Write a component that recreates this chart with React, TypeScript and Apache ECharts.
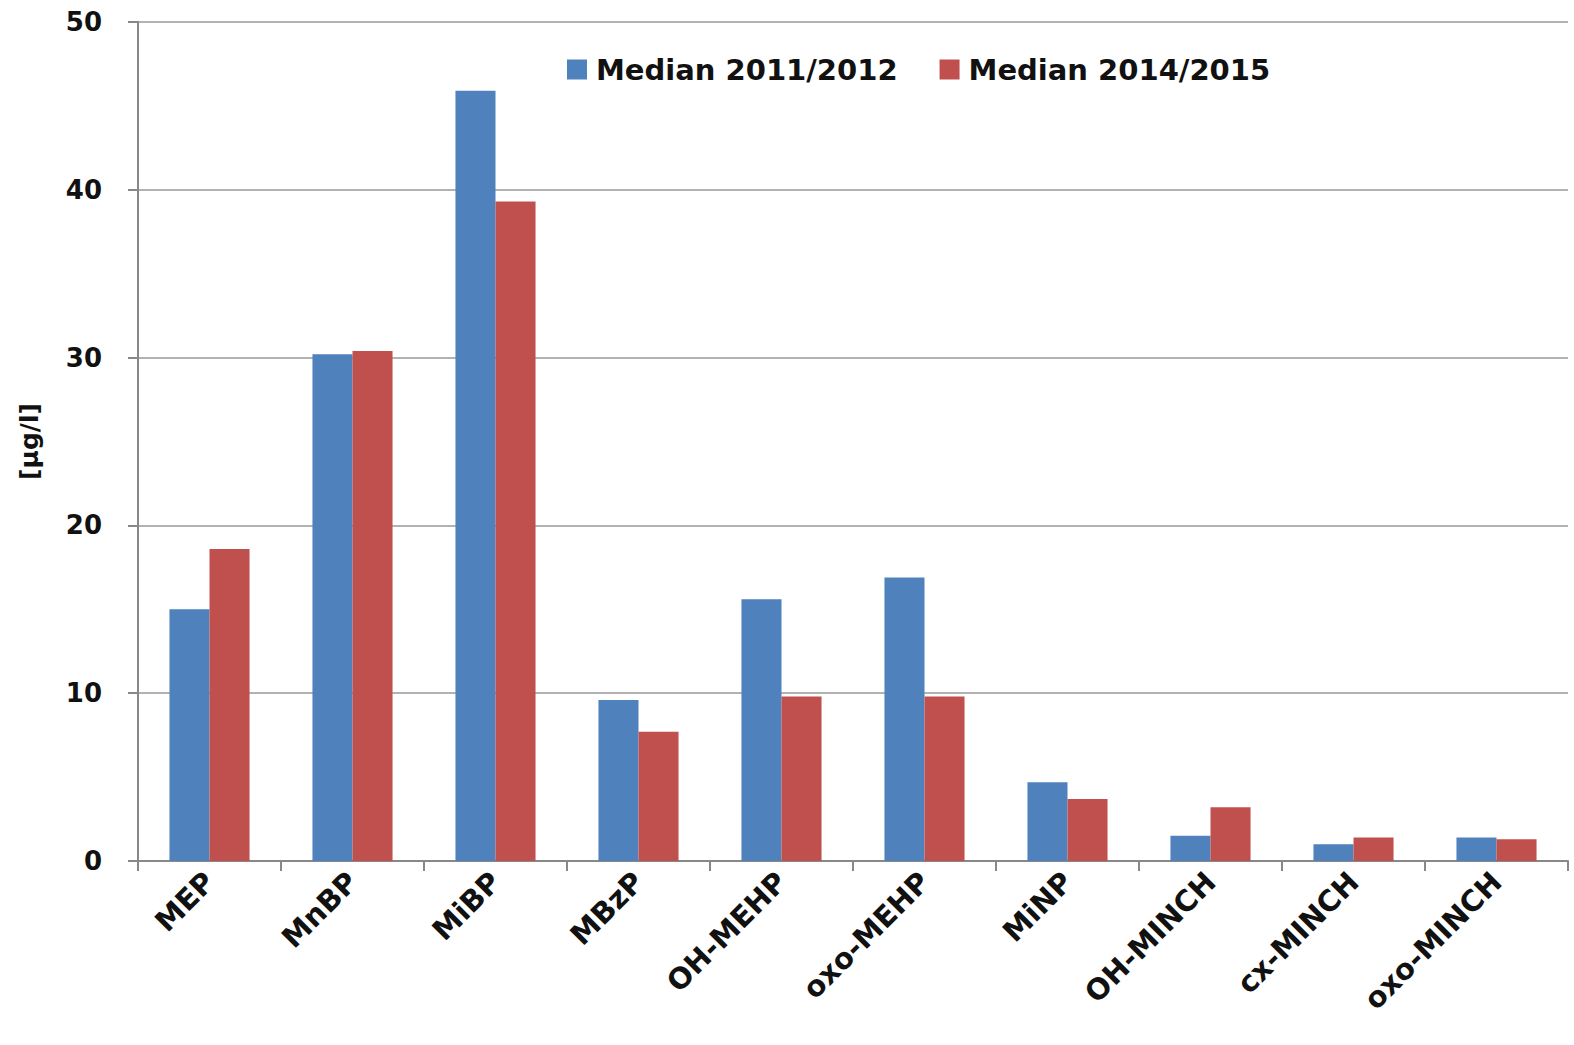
import { useEffect, useRef } from 'react'
import * as echarts from 'echarts'

const categories = ['MEP', 'MnBP', 'MiBP', 'MBzP', 'OH-MEHP', 'oxo-MEHP', 'MiNP', 'OH-MINCH', 'cx-MINCH', 'oxo-MINCH']
const median2011 = [15.0, 30.2, 45.9, 9.6, 15.6, 16.9, 4.7, 1.5, 1.0, 1.4]
const median2015 = [18.6, 30.4, 39.3, 7.7, 9.8, 9.8, 3.7, 3.2, 1.4, 1.3]
const seriesNames = ['Median 2011/2012', 'Median 2014/2015']

const font = '"DejaVu Sans", sans-serif'

export default function App() {
  const ref = useRef<HTMLDivElement>(null)

  useEffect(() => {
    if (!ref.current) return
    const chart = echarts.init(ref.current, undefined, { renderer: 'svg' })
    chart.setOption({
      animation: false,
      legend: {
        top: 50,
        left: 562,
        itemWidth: 20,
        itemHeight: 20,
        itemGap: 42,
        icon: 'rect',
        textStyle: { fontSize: 29, fontWeight: 'bold', color: '#111', fontFamily: font, padding: [0, 0, 0, 4] },
        data: seriesNames,
      },
      grid: { left: 138, right: 6, top: 22, bottom: 184 },
      xAxis: {
        type: 'category',
        data: categories,
        axisLine: { lineStyle: { color: '#888', width: 2 } },
        axisTick: { show: true, length: 10, lineStyle: { color: '#888', width: 2 } },
        axisLabel: {
          rotate: 45,
          fontSize: 29,
          fontWeight: 'bold',
          color: '#111',
          fontFamily: font,
          margin: 16,
        },
      },
      yAxis: {
        type: 'value',
        min: 0,
        max: 50,
        interval: 10,
        name: '[µg/l]',
        nameLocation: 'middle',
        nameGap: 96,
        nameTextStyle: { fontSize: 25, fontWeight: 'bold', color: '#111', fontFamily: font },
        axisLine: { show: true, lineStyle: { color: '#888', width: 2 } },
        axisTick: { show: true, length: 10, lineStyle: { color: '#888', width: 2 } },
        splitLine: { lineStyle: { color: '#999', width: 1.5 } },
        axisLabel: { fontSize: 26, fontWeight: 'bold', color: '#111', fontFamily: font, margin: 36 },
      },
      series: [
        {
          name: seriesNames[0],
          type: 'bar',
          data: median2011,
          barGap: '0%',
          barCategoryGap: '44%',
          itemStyle: { color: '#4f81bd' },
        },
        {
          name: seriesNames[1],
          type: 'bar',
          data: median2015,
          itemStyle: { color: '#c0504d' },
        },
      ],
    })
    return () => chart.dispose()
  }, [])

  return (
    <div
      ref={ref}
      style={{ position: 'fixed', left: 0, top: 0, width: 1574, height: 1045, background: '#fff' }}
    />
  )
}
